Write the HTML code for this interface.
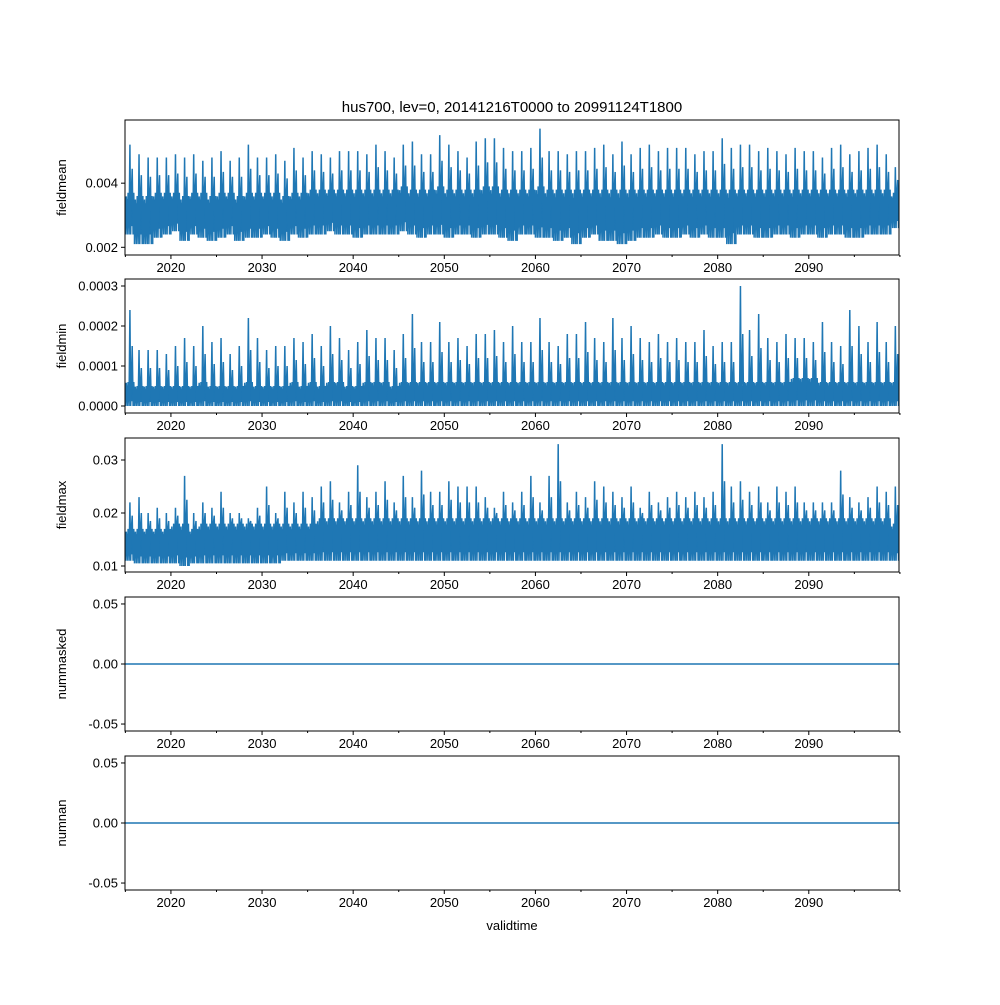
<!DOCTYPE html>
<html><head><meta charset="utf-8"><style>
body{margin:0;background:#fff}
svg text{font-family:"Liberation Sans","DejaVu Sans",sans-serif;fill:#000}
</style></head><body>
<svg id="c" width="1000" height="1000" viewBox="0 0 1000 1000"></svg>
<script>
// years 2015..2099
const years = Array.from({length:85},(_, i)=>2015+i);
// fieldmean annual peak (x1e-4), trough (x1e-4), body top (x1e-4)
const meanPeak = [52,49,48,48,48,49,48,49,47,48,50,47,48,52,48,48,49,47,51,48,50,49,48,50,50,50,49,52,50,48,52,53,49,49,55,52,50,48,53,54,54,51,50,50,51,57,50,50,49,50,50,51,52,49,53,49,51,52,50,51,51,51,49,50,50,54,51,52,52,50,51,50,49,51,50,50,48,51,52,49,50,51,52,49,45];
const meanTrough = [24,21,21,23,24,25,22,24,23,22,23,24,22,23,23,24,23,22,24,23,24,24,25,24,24,23,24,24,24,24,25,24,23,24,24,23,24,24,23,24,24,23,22,24,24,23,23,22,23,21,23,24,22,22,21,22,23,23,24,23,23,24,23,24,23,23,21,24,24,23,23,24,24,23,24,24,23,24,24,23,23,24,24,24,26];
const meanBody = [37,36,36,37,37,37,36,37,37,36,37,37,36,37,37,37,37,36,37,37,38,38,38,38,38,38,38,38,38,38,39,38,38,38,39,38,38,38,38,39,39,38,38,38,38,39,38,38,38,38,38,38,38,38,38,38,38,38,38,38,38,38,38,38,38,38,38,38,38,38,38,38,38,38,38,38,38,38,38,38,38,38,38,38,37];
// fieldmin annual peak (x1e-5), body top (x1e-5)
const minPeak = [24,14,14,14,13,15,17,15,20,16,17,13,15,22,17,14,15,15,17,16,18,15,20,17,14,16,19,17,17,14,18,23,16,16,21,16,17,15,18,18,19,16,20,16,16,22,16,15,18,18,21,17,16,22,17,20,17,16,18,16,17,16,16,19,15,16,16,30,19,23,17,16,18,17,17,16,21,16,15,24,20,16,21,16,20];
const minBody = [6,5,5,5,5,5,5,5,6,5,5,5,5,6,5,5,5,5,6,5,6,5,6,6,5,5,6,6,6,5,6,6,6,6,6,6,6,6,6,6,6,6,6,6,6,6,6,6,6,6,6,6,6,6,6,6,6,6,6,6,6,6,6,6,6,6,6,6,6,6,6,6,6,7,7,7,6,6,6,6,6,6,6,6,6];
// fieldmax annual peak (x1e-3), trough, body top
const maxPeak = [22,23,20,21,20,21,27,20,22,21,24,20,20,19,21,25,20,24,22,24,23,25,26,22,24,29,23,24,26,22,27,23,28,24,24,26,25,25,25,23,21,24,22,24,27,22,27,33,22,24,23,26,25,24,23,25,21,24,22,23,24,23,24,23,24,33,25,26,24,25,22,25,24,25,22,22,22,22,28,23,22,23,25,24,25];
const maxTrough = [11,10.5,10.5,10.5,10.5,10.5,10,10.5,10.5,10.5,10.5,10.5,10.5,10.5,10.5,10.5,10.5,11,11,11,11,11,11,11,11,11,11,11,11,11,11,11,11,11,11,11,11,11,11,11,11,11,11,11,11,11,11,11,11,11,11,11,11,11,11,11,11,11,11,11,11,11,11,11,11,11,11,11,11,11,11,11,11,11,11,11,11,11,11,11,11,11,11,11,11];
const maxBody = [17,17,17,17,17,18,18,17,18,18,18,18,18,18,18,18,18,18,18,18,18,19,19,19,19,19,19,19,19,19,19,19,19,19,19,19,19,19,19,19,19,19,19,19,19,19,19,19,19,19,19,19,19,19,19,19,19,19,19,19,19,19,19,19,19,19,19,19,19,19,19,19,19,19,19,19,19,19,19,19,19,19,19,19,18];
const xTicks = [2020,2030,2040,2050,2060,2070,2080,2090];
const xMinor = [2015,2025,2035,2045,2055,2065,2075,2085,2095,2100];

const NS="http://www.w3.org/2000/svg", svg=document.getElementById('c');
const L=125,R=899,X0=2014.96,X1=2099.9;
const xs=t=>L+(t-X0)/(X1-X0)*(R-L);
function el(tag,attrs,parent){const e=document.createElementNS(NS,tag);for(const k in attrs)e.setAttribute(k,attrs[k]);(parent||svg).appendChild(e);return e;}
const C='#1f77b4';

const panels=[
 {name:'fieldmean',top:120,bot:255,lo:0.00176,hi:0.00597,ticks:[0.002,0.004],fmt:v=>v.toFixed(3),peak:meanPeak,trough:meanTrough,body:meanBody,sc:1e-4},
 {name:'fieldmin',top:279,bot:413,lo:-0.0000175,hi:0.0003175,ticks:[0,0.0001,0.0002,0.0003],fmt:v=>v.toFixed(4),peak:minPeak,trough:null,body:minBody,sc:1e-5},
 {name:'fieldmax',top:438,bot:572,lo:0.00887,hi:0.03415,ticks:[0.01,0.02,0.03],fmt:v=>v.toFixed(2),peak:maxPeak,trough:maxTrough,body:maxBody,sc:1e-3},
 {name:'nummasked',top:597,bot:731,lo:-0.0558,hi:0.0558,ticks:[-0.05,0,0.05],fmt:v=>v.toFixed(2),flat:true},
 {name:'numnan',top:756,bot:890,lo:-0.0558,hi:0.0558,ticks:[-0.05,0,0.05],fmt:v=>v.toFixed(2),flat:true}
];

const title=el('text',{x:512,y:112,'text-anchor':'middle','font-size':15});
title.textContent='hus700, lev=0, 20141216T0000 to 20991124T1800';



panels.forEach(p=>{
  const g=el('g',{});
  
  
  const ys=v=>p.bot-(v-p.lo)/(p.hi-p.lo)*(p.bot-p.top);
  const clip=el('clipPath',{id:'cl'+p.name},g);
  el('rect',{x:L,y:p.top,width:R-L,height:p.bot-p.top},clip);
  const dg=el('g',{'clip-path':'url(#cl'+p.name+')'},g);
  if(p.flat){
    const ln=el('line',{x1:L,x2:R,y1:ys(0),y2:ys(0),stroke:C,'stroke-width':1.5},dg);
    
    
  } else {
    let dBody='', dLine='';
    years.forEach((y,i)=>{
      const tr=p.trough?p.trough[i]*p.sc:0, bd=p.body[i]*p.sc, pk=p.peak[i]*p.sc;
      const lo2=tr+(bd-tr)*0.2, hi2=tr+(bd-tr)*0.85;
      const x0=xs(y),x1=xs(y+1);
      dBody+=`M${x0},${ys(lo2)}L${x0},${ys(hi2)}L${x1},${ys(hi2)}L${x1},${ys(lo2)}Z`;
      const pts=[[0,tr],[0.1,bd*0.97],[0.2,tr],[0.3,bd],[0.4,tr],[0.5,pk],[0.58,tr],[0.66,bd],[0.75,(bd+pk)/2],[0.85,tr],[0.92,bd],[1,tr]];
      pts.forEach((q,j)=>{dLine+=(i===0&&j===0?'M':'L')+xs(y+q[0])+','+ys(q[1]);});
    });
    const b=el('path',{d:dBody,fill:C,stroke:'none'},dg);
    
    
    const l=el('path',{d:dLine,fill:'none',stroke:C,'stroke-width':1.5},dg);
    
    
  }
  const fr=el('rect',{x:L,y:p.top,width:R-L,height:p.bot-p.top,fill:'none',stroke:'#000','stroke-width':1},g);
  
  
  p.ticks.forEach(v=>{
    const y=ys(v);
    el('line',{x1:L-4,x2:L,y1:y,y2:y,stroke:'#000'},g);
    const t=el('text',{x:L-7,y:y+4.5,'text-anchor':'end','font-size':13},g);
    t.textContent=p.fmt(v);
    
    
  });
  xTicks.forEach(v=>{
    const x=xs(v);
    el('line',{x1:x,x2:x,y1:p.bot,y2:p.bot+4,stroke:'#000'},g);
    const t=el('text',{x:x,y:p.bot+17,'text-anchor':'middle','font-size':13},g);
    t.textContent=v;
    
    
  });
  xMinor.forEach(v=>{const x=xs(v);if(x>=L-1&&x<=R+1)el('line',{x1:x,x2:x,y1:p.bot,y2:p.bot+2,stroke:'#000'},g);});
  const yl=el('text',{x:0,y:0,'text-anchor':'middle','font-size':13,transform:`translate(66,${(p.top+p.bot)/2}) rotate(-90)`},g);
  yl.textContent=p.name;
  
  
});
const xl=el('text',{x:512,y:930,'text-anchor':'middle','font-size':13});
xl.textContent='validtime';


</script>
</body></html>
